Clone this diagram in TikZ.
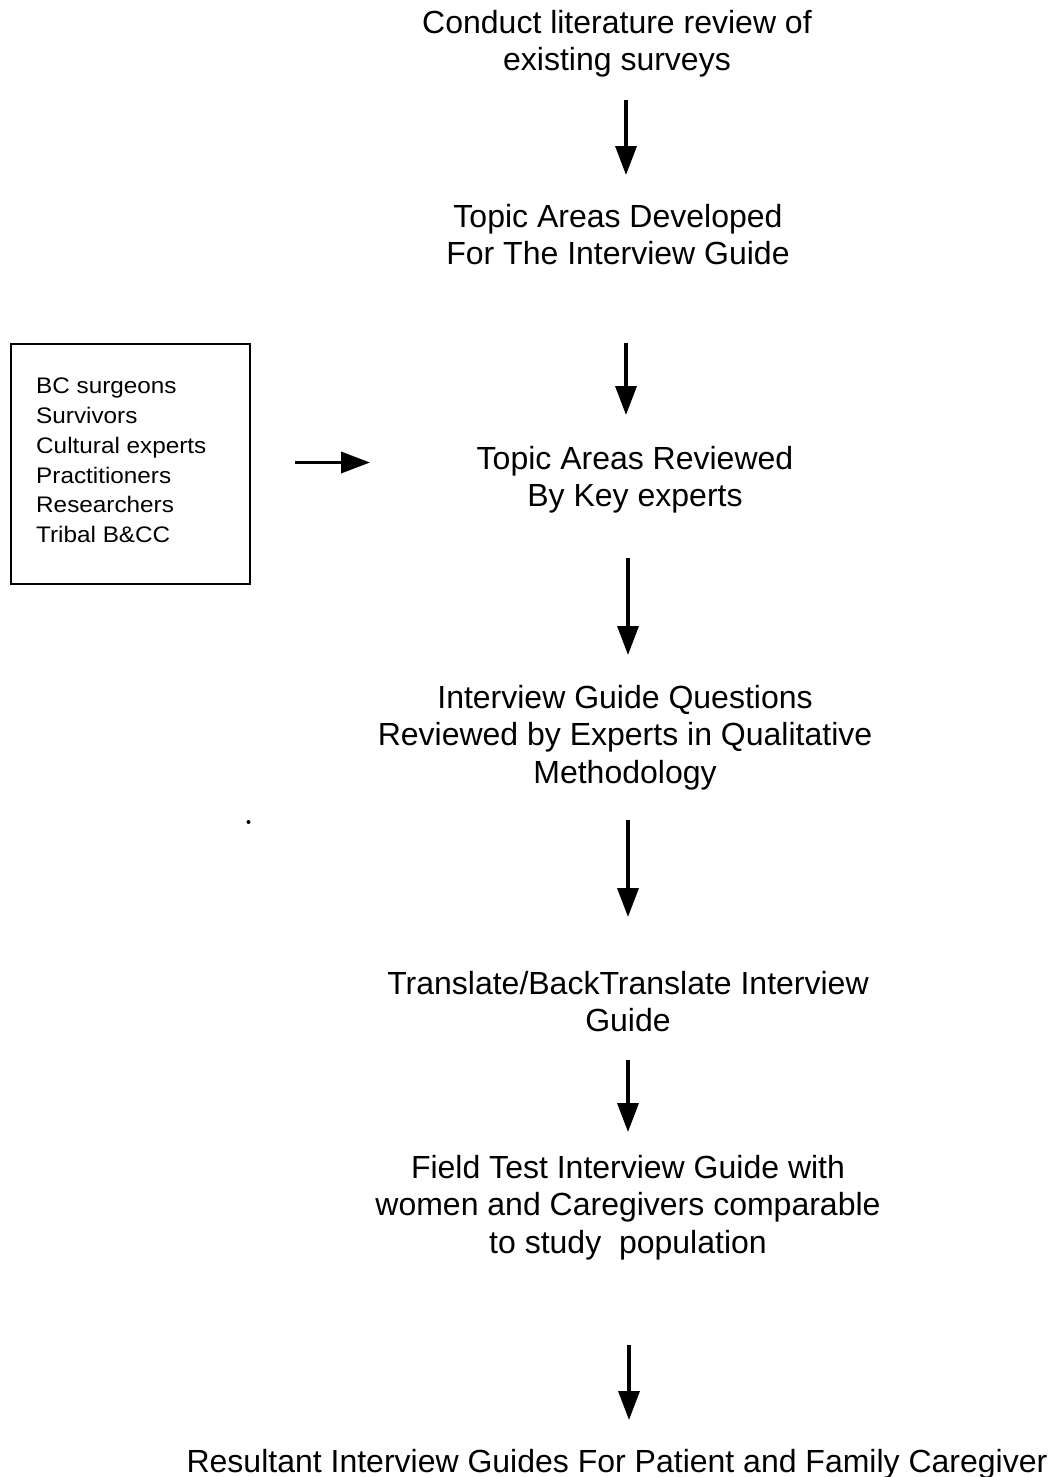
\documentclass[tikz,border=0pt]{standalone}
\usepackage{fontspec}
\setmainfont{Liberation Sans}
\newfontfamily\boxfont[FakeStretch=1.08]{Liberation Sans}
\usetikzlibrary{arrows.meta}
\tikzset{
  steptext/.style={anchor=north, align=center, inner sep=0pt, font=\fontsize{32}{37.5}\selectfont},
  flowarrow/.style={line width=3.5pt, -{Triangle[length=29pt,width=21pt]}},
  listbox/.style={draw, line width=2pt, anchor=north west, minimum width=239pt, minimum height=240pt, inner sep=0pt},
  listtext/.style={anchor=north west, align=left, inner sep=0pt, font=\boxfont\fontsize{22.5}{29.7}\selectfont}
}
\begin{document}
\begin{tikzpicture}[x=1pt,y=-1pt]
\useasboundingbox (0,0) rectangle (1052,1477);
\node[steptext] (n1) at (617,10) {Conduct literature review of\\existing surveys};
\node[steptext] (n2) at (618,204) {Topic Areas Developed\\For The Interview Guide};
\node[steptext] (n3) at (635,446) {Topic Areas Reviewed\\By Key experts};
\node[steptext] (n4) at (625,685) {Interview Guide Questions\\Reviewed by Experts in Qualitative\\Methodology};
\node[steptext] (n5) at (628,971) {Translate/BackTranslate Interview\\Guide};
\node[steptext] (n6) at (628,1155) {Field Test Interview Guide with\\women and Caregivers comparable\\to study\ \ population};
\node[steptext] (n7) at (617,1449) {Resultant Interview Guides For Patient and Family Caregiver};
\node[listbox] (box) at (10,343) {};
\node[listtext] (list) at (36,378) {BC surgeons\\Survivors\\Cultural experts\\Practitioners\\Researchers\\Tribal B\&CC};
\coordinate (a1s) at (626,100); \coordinate (a1e) at (626,175);
\coordinate (a2s) at (626,343); \coordinate (a2e) at (626,415);
\coordinate (a3s) at (628,558); \coordinate (a3e) at (628,655);
\coordinate (a4s) at (628,820); \coordinate (a4e) at (628,917);
\coordinate (a5s) at (628,1060); \coordinate (a5e) at (628,1132);
\coordinate (a6s) at (629,1345); \coordinate (a6e) at (629,1420);
\coordinate (ahs) at (295,462.5); \coordinate (ahe) at (370,462.5);
\draw[flowarrow] (a1s) -- (a1e);
\draw[flowarrow] (a2s) -- (a2e);
\draw[flowarrow] (a3s) -- (a3e);
\draw[flowarrow] (a4s) -- (a4e);
\draw[flowarrow] (a5s) -- (a5e);
\draw[flowarrow] (a6s) -- (a6e);
\draw[flowarrow] (ahs) -- (ahe);
\fill (248.5,822) circle (2);
\end{tikzpicture}
\end{document}
